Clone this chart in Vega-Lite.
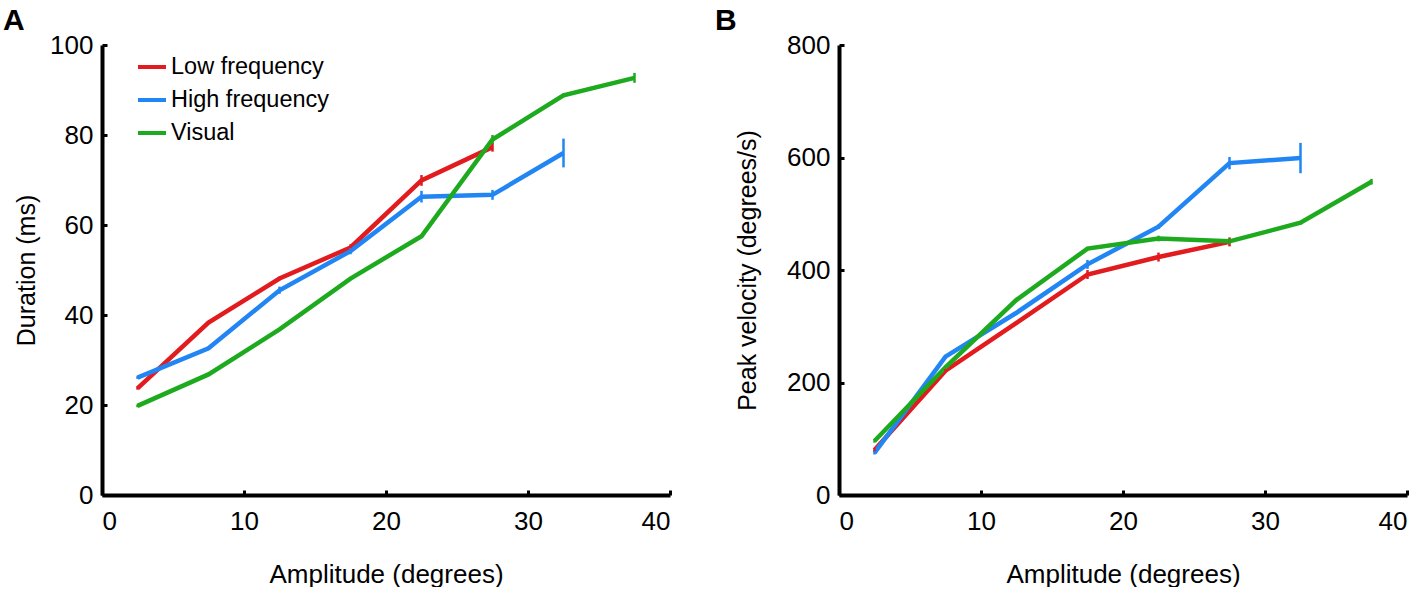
{
  "$schema": "https://vega.github.io/schema/vega-lite/v6.json",
  "background": "white",
  "padding": {"left": 3, "top": 6, "right": 0, "bottom": 0},
  "datasets": {
    "duration": [
      {"series": "Low frequency", "amp": 2.5, "value": 23.7, "err": 0.3},
      {"series": "Low frequency", "amp": 7.5, "value": 38.3, "err": 0.3},
      {"series": "Low frequency", "amp": 12.5, "value": 48.1, "err": 0.4},
      {"series": "Low frequency", "amp": 17.5, "value": 55.0, "err": 0.7},
      {"series": "Low frequency", "amp": 22.5, "value": 69.9, "err": 1.2},
      {"series": "Low frequency", "amp": 27.5, "value": 77.3, "err": 1.0},
      {"series": "High frequency", "amp": 2.5, "value": 26.1, "err": 0.3},
      {"series": "High frequency", "amp": 7.5, "value": 32.6, "err": 0.3},
      {"series": "High frequency", "amp": 12.5, "value": 45.5, "err": 0.8},
      {"series": "High frequency", "amp": 17.5, "value": 54.2, "err": 0.7},
      {"series": "High frequency", "amp": 22.5, "value": 66.3, "err": 1.3},
      {"series": "High frequency", "amp": 27.5, "value": 66.7, "err": 1.1},
      {"series": "High frequency", "amp": 32.5, "value": 76.0, "err": 3.2},
      {"series": "Visual", "amp": 2.5, "value": 19.8, "err": 0.3},
      {"series": "Visual", "amp": 7.5, "value": 26.8, "err": 0.3},
      {"series": "Visual", "amp": 12.5, "value": 36.8, "err": 0.3},
      {"series": "Visual", "amp": 17.5, "value": 48.1, "err": 0.3},
      {"series": "Visual", "amp": 22.5, "value": 57.5, "err": 0.4},
      {"series": "Visual", "amp": 27.5, "value": 79.0, "err": 1.0},
      {"series": "Visual", "amp": 32.5, "value": 88.8, "err": 0.4},
      {"series": "Visual", "amp": 37.5, "value": 92.7, "err": 1.1}
    ],
    "velocity": [
      {"series": "Low frequency", "amp": 2.5, "value": 80, "err": 3},
      {"series": "Low frequency", "amp": 7.5, "value": 221, "err": 3},
      {"series": "Low frequency", "amp": 12.5, "value": 306, "err": 3},
      {"series": "Low frequency", "amp": 17.5, "value": 392, "err": 8},
      {"series": "Low frequency", "amp": 22.5, "value": 423, "err": 8},
      {"series": "Low frequency", "amp": 27.5, "value": 450, "err": 8},
      {"series": "High frequency", "amp": 2.5, "value": 75, "err": 3},
      {"series": "High frequency", "amp": 7.5, "value": 246, "err": 3},
      {"series": "High frequency", "amp": 12.5, "value": 324, "err": 3},
      {"series": "High frequency", "amp": 17.5, "value": 410, "err": 8},
      {"series": "High frequency", "amp": 22.5, "value": 477, "err": 4},
      {"series": "High frequency", "amp": 27.5, "value": 590, "err": 11},
      {"series": "High frequency", "amp": 32.5, "value": 599, "err": 27},
      {"series": "Visual", "amp": 2.5, "value": 96, "err": 3},
      {"series": "Visual", "amp": 7.5, "value": 227, "err": 3},
      {"series": "Visual", "amp": 12.5, "value": 347, "err": 3},
      {"series": "Visual", "amp": 17.5, "value": 438, "err": 3},
      {"series": "Visual", "amp": 22.5, "value": 456, "err": 5},
      {"series": "Visual", "amp": 27.5, "value": 451, "err": 5},
      {"series": "Visual", "amp": 32.5, "value": 484, "err": 3},
      {"series": "Visual", "amp": 37.5, "value": 557, "err": 5}
    ]
  },
  "hconcat": [
    {
      "width": 568,
      "height": 450,
      "title": {"text": "A", "anchor": "start", "frame": "group", "dx": -99, "offset": -4},
      "data": {"name": "duration"},
      "encoding": {
        "x": {"field": "amp", "type": "quantitative", "title": "Amplitude (degrees)",
              "scale": {"domain": [0, 40], "nice": false}, "axis": {"values": [0, 10, 20, 30, 40]}},
        "y": {"field": "value", "type": "quantitative", "title": "Duration (ms)",
              "scale": {"domain": [0, 100], "nice": false},
              "axis": {"values": [0, 20, 40, 60, 80, 100], "titlePadding": 10}},
        "color": {
          "field": "series", "type": "nominal",
          "scale": {"domain": ["Low frequency", "High frequency", "Visual"], "range": ["#e21b1f", "#2186f4", "#1eaa1e"]},
          "legend": {"orient": "none", "legendX": 34, "legendY": 6, "title": null, "symbolType": "stroke",
                     "symbolSize": 784, "symbolStrokeWidth": 4, "labelFontSize": 23.5, "labelOffset": 3,
                     "rowPadding": 5, "labelFont": "Liberation Sans", "labelColor": "black", "padding": 0}
        }
      },
      "layer": [
        {"mark": {"type": "line", "strokeWidth": 4.5}},
        {
          "mark": {"type": "errorbar", "rule": {"strokeWidth": 2.5}},
          "encoding": {"yError": {"field": "err"}}
        }
      ]
    },
    {
      "width": 568,
      "height": 450,
      "title": {"text": "B", "anchor": "start", "frame": "group", "dx": -124, "offset": -4},
      "data": {"name": "velocity"},
      "encoding": {
        "x": {"field": "amp", "type": "quantitative", "title": "Amplitude (degrees)",
              "scale": {"domain": [0, 40], "nice": false}, "axis": {"values": [0, 10, 20, 30, 40]}},
        "y": {"field": "value", "type": "quantitative", "title": "Peak velocity (degrees/s)",
              "scale": {"domain": [0, 800], "nice": false},
              "axis": {"values": [0, 200, 400, 600, 800], "titlePadding": 26}},
        "color": {
          "field": "series", "type": "nominal",
          "scale": {"domain": ["Low frequency", "High frequency", "Visual"], "range": ["#e21b1f", "#2186f4", "#1eaa1e"]},
          "legend": null
        }
      },
      "layer": [
        {"mark": {"type": "line", "strokeWidth": 4.5}},
        {
          "mark": {"type": "errorbar", "rule": {"strokeWidth": 2.5}},
          "encoding": {"yError": {"field": "err"}}
        }
      ]
    }
  ],
  "spacing": 43,
  "resolve": {"scale": {"color": "shared"}, "legend": {"color": "independent"}},
  "config": {
    "font": "Liberation Sans",
    "view": {"stroke": null},
    "title": {"fontSize": 30, "fontWeight": "bold", "font": "Liberation Sans", "color": "black"},
    "axis": {
      "grid": false,
      "domainColor": "black",
      "domainWidth": 4,
      "tickColor": "black",
      "tickWidth": 3,
      "tickSize": -5,
      "labelFontSize": 26,
      "labelColor": "black",
      "labelFont": "Liberation Sans",
      "titleFontSize": 25,
      "titleFontWeight": "normal",
      "titleColor": "black",
      "titleFont": "Liberation Sans"
    },
    "axisX": {"titlePadding": 27, "titleFontSize": 26, "labelPadding": 18},
    "axisY": {"labelPadding": 14}
  }
}
